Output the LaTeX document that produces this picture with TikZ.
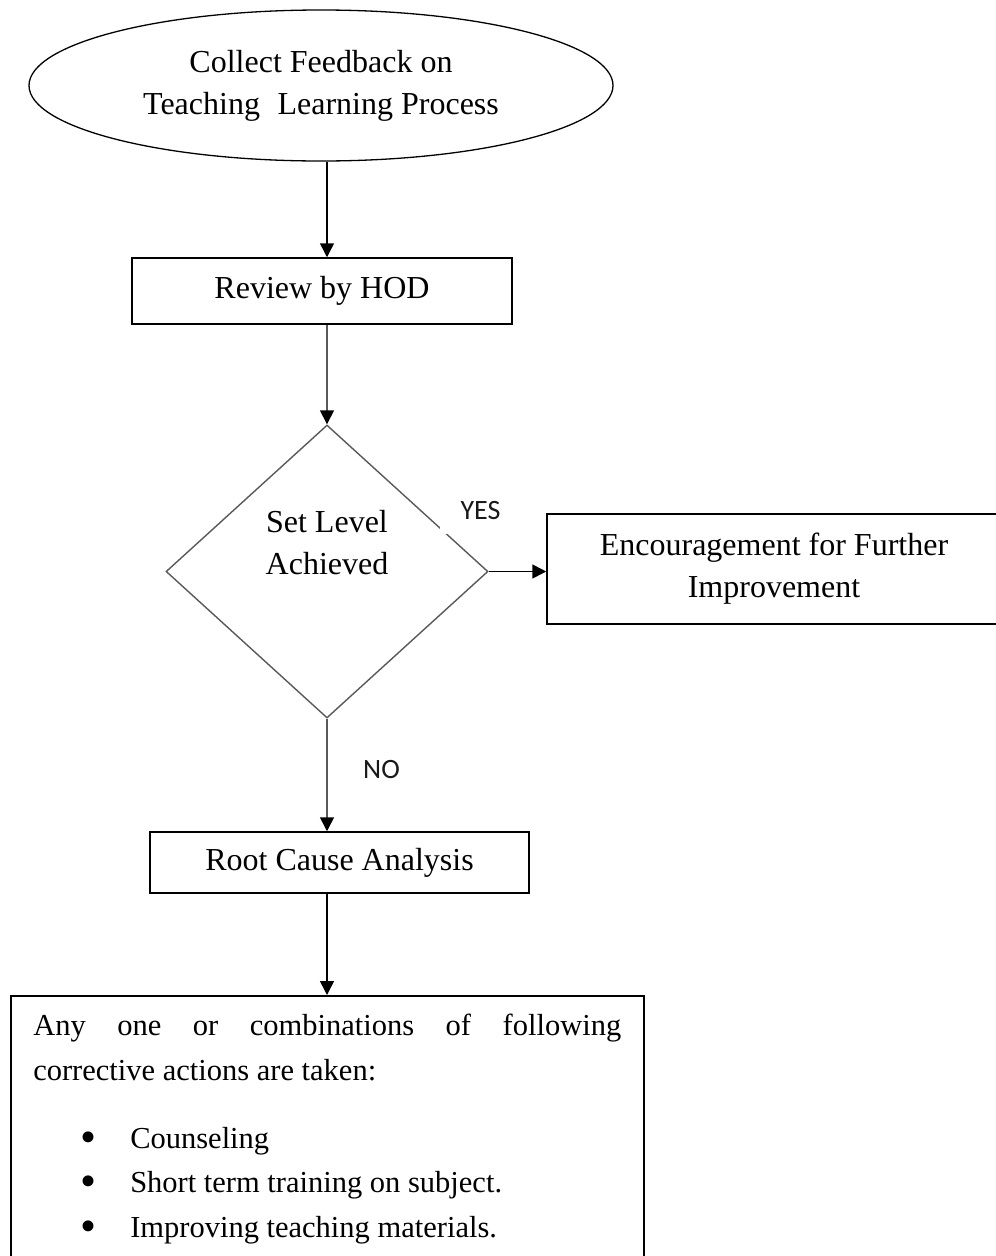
\documentclass[tikz,border=0pt]{standalone}
\usepackage{fontspec}
\setmainfont{Liberation Serif}
\newfontfamily\yesnofont{Carlito}
\usetikzlibrary{shapes.geometric,arrows.meta}

\begin{document}
\begin{tikzpicture}[x=1pt, y=-1pt,
  txt/.style={font=\fontsize{32}{42}\selectfont, align=center},
  stepbox/.style={txt, draw, line width=1.5pt, inner sep=0pt},
  flow/.style={-{Triangle[width=14pt,length=14pt,color=black]}, line width=1.5pt},
  answer/.style={font=\yesnofont\fontsize{28}{30}\selectfont, text=black!90}]
\useasboundingbox (0,0) rectangle (996,1256);
\node [txt, draw, ellipse, line width=1.3pt, minimum width=584pt, minimum height=151pt, inner sep=0pt] (collect) at (321,85.5) {Collect Feedback on\\Teaching\hspace{0.3em} Learning Process};
\node [stepbox, minimum width=380pt, minimum height=66pt] (review) at (322,291) {Review by HOD};
\node [diamond, draw=black!65, line width=1.4pt, minimum width=322pt, minimum height=293pt, inner sep=0pt] (level) at (327,571.5) {};
\node [txt] (levelText) at (327,542.4) {Set Level\\Achieved};
\node [answer, fill=white, minimum width=81pt, minimum height=46pt, inner sep=0pt] (yes) at (480.5,511) {YES};
\node [stepbox, minimum width=454pt, minimum height=110pt] (encourage) at (774,569) {Encouragement for Further\\Improvement};
\node [answer] (no) at (381.5,770) {NO};
\node [stepbox, minimum width=379pt, minimum height=61pt] (root) at (339.5,862.5) {Root Cause Analysis};
\node [stepbox, anchor=north west, align=justify, text width=588pt, inner xsep=20pt, inner ysep=18.5pt, minimum width=633pt, font=\fontsize{30.5}{44.5}\selectfont] (actions) at (10,995) {\parindent=0pt
Any one or combinations of following\linebreak corrective actions are taken:\par
\vspace*{23.5pt}
\hspace*{47pt}\makebox[50pt][l]{\raisebox{-4pt}{\scalebox{1.5}{\textbullet}}}Counseling\par
\hspace*{47pt}\makebox[50pt][l]{\raisebox{-4pt}{\scalebox{1.5}{\textbullet}}}Short term training on subject.\par
\hspace*{47pt}\makebox[50pt][l]{\raisebox{-4pt}{\scalebox{1.5}{\textbullet}}}Improving teaching materials.\par
\vspace*{40pt}};
\draw [flow] (collect.south -| level.north) -- (review.north -| level.north);
\draw [flow, draw=black!65] (review.south -| level.north) -- (level.north);
\draw [flow] (level.east) -- (level.east -| encourage.west);
\draw [flow, draw=black!65] (level.south) -- (root.north -| level.south);
\draw [flow] (root.south -| level.south) -- (actions.north -| level.south);
\end{tikzpicture}
\end{document}
